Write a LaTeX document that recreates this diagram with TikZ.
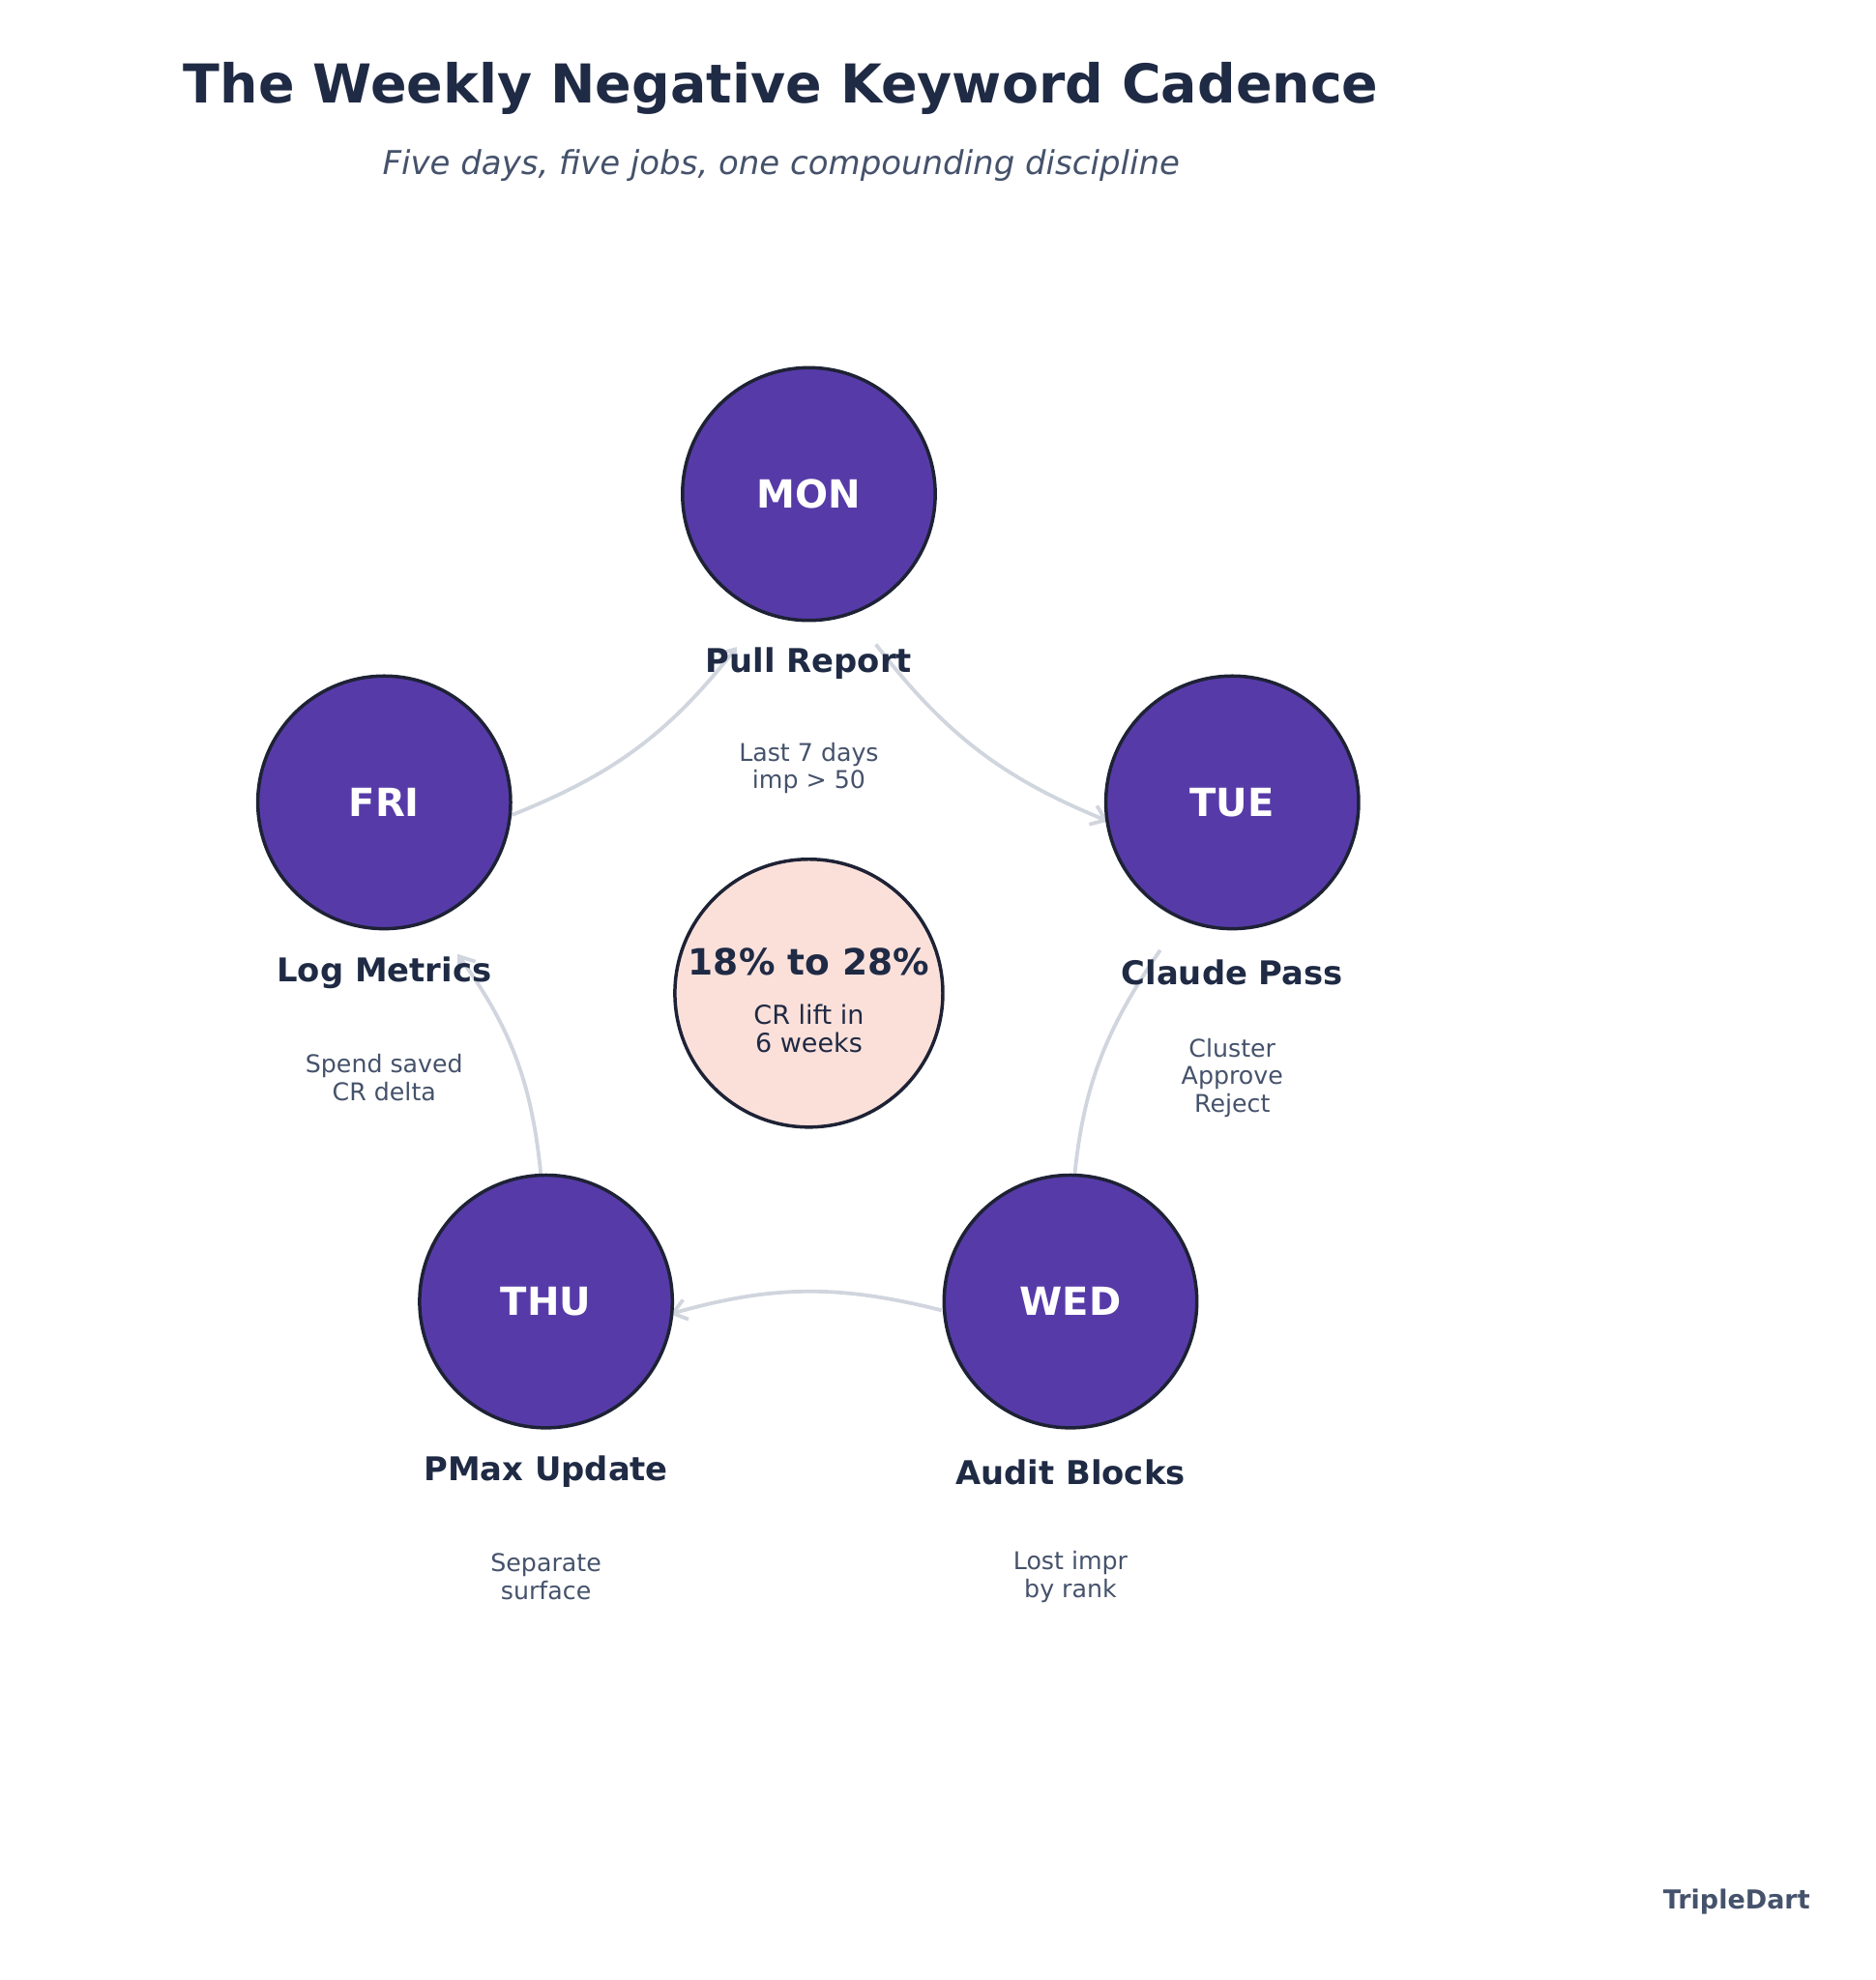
\documentclass[tikz,border=0pt]{standalone}
\usepackage{fontspec}
\setmainfont{DejaVu Sans}
\usetikzlibrary{arrows.meta,calc}
\definecolor{ink}{HTML}{1F2A44}
\definecolor{sub}{HTML}{45526B}
\definecolor{day}{HTML}{563BA8}
\definecolor{edge}{HTML}{1E2235}
\definecolor{arr}{HTML}{D0D5DE}
\definecolor{hub}{HTML}{FBE0DA}
\newcommand{\fs}[2]{\fontsize{#1}{#2}\selectfont}
\begin{document}
\begin{tikzpicture}[x=0.75pt,y=-0.75pt,
  daynode/.style={circle,fill=day,draw=edge,line width=2pt,minimum size=150pt,inner sep=0,text=white,font=\fs{23pt}{23pt}\bfseries},
  lbl/.style={text=ink,font=\fs{19.4pt}{20pt}\bfseries},
  desc/.style={text=sub,font=\fs{14.5pt}{16.5pt},align=center},
  conn/.style={draw=arr,line width=2.2pt,-{Straight Barb[length=8pt,width=12pt]}}]
\useasboundingbox (0,0) rectangle (1484,1567);
\coordinate (cmon) at (640,391);
\coordinate (ctue) at (975,635);
\coordinate (cwed) at (847,1030);
\coordinate (cthu) at (432,1030);
\coordinate (cfri) at (304,635);
\draw[conn] ($(cmon)+(53,119)$) to[bend right=15] ($(ctue)+(-98,15)$);
\draw[conn] ($(ctue)+(-57,117)$) to[bend right=15] ($(cwed)+(2,-85)$);
\draw[conn] ($(cwed)+(-102,7)$) to[bend right=15] ($(cthu)+(98,10)$);
\draw[conn] ($(cthu)+(-4,-100)$) to[bend right=15] ($(cfri)+(58,120)$);
\draw[conn] ($(cfri)+(101,10)$) to[bend right=15] ($(cmon)+(-57,121)$);
\node[text=ink,font=\fs{31.8pt}{32pt}\bfseries] (title) at (618,70) {The Weekly Negative Keyword Cadence};
\node[text=sub,font=\fs{19.5pt}{20pt}\itshape] (subt) at (618,131) {Five days, five jobs, one compounding discipline};
\node[daynode] (mon) at (cmon) {MON};
\node[daynode] (tue) at (ctue) {TUE};
\node[daynode] (wed) at (cwed) {WED};
\node[daynode] (thu) at (cthu) {THU};
\node[daynode] (fri) at (cfri) {FRI};
\node[circle,fill=hub,draw=edge,line width=2pt,minimum size=159pt,inner sep=0] (hub) at (640,786) {};
\node[text=ink,font=\fs{21.5pt}{22pt}\bfseries] (hubt) at (640,761) {18\% to 28\%};
\node[text=ink,font=\fs{15.5pt}{17pt},align=center] (hubd) at (640,814) {CR lift in\\6 weeks};
\node[lbl] (lmon) at (640,525) {Pull Report};
\node[lbl] (ltue) at (975,770) {Claude Pass};
\node[lbl] (lwed) at (847,1165) {Audit Blocks};
\node[lbl] (lthu) at (432,1165) {PMax Update};
\node[lbl] (lfri) at (304,770) {Log Metrics};
\node[desc] (dmon) at (640,608) {Last 7 days\\imp > 50};
\node[desc] (dtue) at (975,853) {Cluster\\Approve\\Reject};
\node[desc] (dwed) at (847,1248) {Lost impr\\by rank};
\node[desc] (dthu) at (432,1248) {Separate\\surface};
\node[desc] (dfri) at (304,853) {Spend saved\\CR delta};
\node[text=sub,font=\fs{15.5pt}{16pt}\bfseries] (brand) at (1374,1505) {TripleDart};
\end{tikzpicture}
\end{document}
